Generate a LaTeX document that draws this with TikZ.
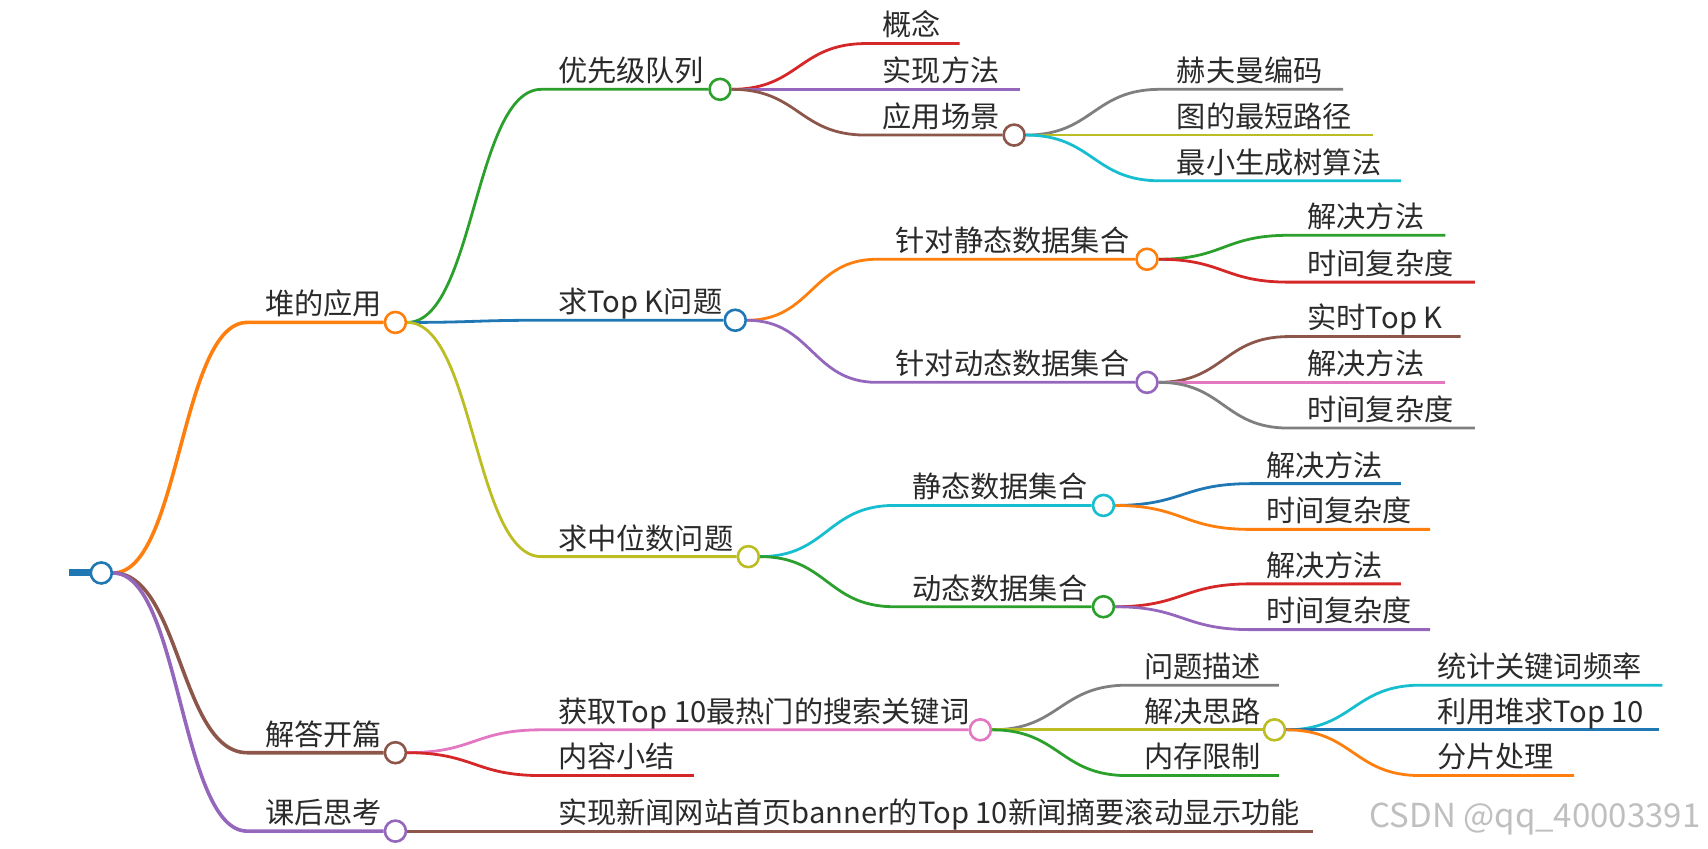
\documentclass[tikz,border=0pt]{standalone}
\usepackage{fontspec}
\setmainfont{Noto Sans CJK SC}
\usetikzlibrary{calc,backgrounds}
\definecolor{cblue}{HTML}{1F77B4}
\definecolor{corange}{HTML}{FF7F0E}
\definecolor{cgreen}{HTML}{2CA02C}
\definecolor{cred}{HTML}{D62728}
\definecolor{cpurple}{HTML}{9467BD}
\definecolor{cbrown}{HTML}{8C564B}
\definecolor{cpink}{HTML}{E377C2}
\definecolor{cgray}{HTML}{7F7F7F}
\definecolor{colive}{HTML}{BCBD22}
\definecolor{ccyan}{HTML}{17BECF}
\definecolor{txt}{HTML}{2A2A2A}
\tikzset{
  lbl/.style={anchor=base west, inner sep=0pt, text=txt, font=\fontsize{14.6}{16}\selectfont},
  dot/.style={circle, draw=#1, fill=white, line width=1.3pt, minimum size=10.5pt, inner sep=0pt},
  thick1/.style={draw=#1, line width=1.8pt},
  thin1/.style={draw=#1, line width=1.4pt},
  link/.style={to path={let \p1=(\tikztostart), \p2=(\tikztotarget) in
     .. controls ({0.5*\x1+0.5*\x2},\y1) and ({0.5*\x1+0.5*\x2},\y2) .. (\tikztotarget)}},
}
\begin{document}
\begin{tikzpicture}[x=0.5447pt, y=-0.5447pt]
\useasboundingbox (0,0) rectangle (1568,779);
% ---------- root ----------
\node[dot=cblue] (root) at (93,526) {};
\coordinate (stub) at (63,526);
% ---------- level 1 ----------
\coordinate (sA) at (227,296); \node[dot=corange] (cA) at (363,296) {};
\node[lbl] (tA) at (243,289) {堆的应用};
\coordinate (sB) at (227,691); \node[dot=cbrown] (cB) at (363,691) {};
\node[lbl] (tB) at (243,684) {解答开篇};
\coordinate (sC) at (227,763); \node[dot=cpurple] (cC) at (363,763) {};
\node[lbl] (tC) at (243,756) {课后思考};
% ---------- level 2 ----------
\coordinate (sA1) at (497,82); \node[dot=cgreen] (cA1) at (661,82) {};
\node[lbl] (tA1) at (512,75) {优先级队列};
\coordinate (sA2) at (497,294); \node[dot=cblue] (cA2) at (675,294) {};
\node[lbl] (tA2) at (512,287) {求Top K问题};
\coordinate (sA3) at (497,511); \node[dot=colive] (cA3) at (687,511) {};
\node[lbl] (tA3) at (512,504) {求中位数问题};
\coordinate (sB1) at (497,670); \node[dot=cpink] (cB1) at (900,670) {};
\node[lbl] (tB1) at (512,663) {获取Top 10最热门的搜索关键词};
\coordinate (sB2) at (497,712); \coordinate (eB2) at (637,712);
\node[lbl] (tB2) at (512,705) {内容小结};
\coordinate (sC1) at (497,763); \coordinate (eC1) at (1205,763);
\node[lbl] (tC1) at (512,756) {实现新闻网站首页banner的Top 10新闻摘要滚动显示功能};
% ---------- level 3: 优先级队列 ----------
\coordinate (sA11) at (795,40); \coordinate (eA11) at (881,40);
\node[lbl] (tA11) at (810,33) {概念};
\coordinate (sA12) at (795,82); \coordinate (eA12) at (936,82);
\node[lbl] (tA12) at (810,75) {实现方法};
\coordinate (sA13) at (795,124); \node[dot=cbrown] (cA13) at (931,124) {};
\node[lbl] (tA13) at (810,117) {应用场景};
\coordinate (sA131) at (1065,82); \coordinate (eA131) at (1233,82);
\node[lbl] (tA131) at (1080,75) {赫夫曼编码};
\coordinate (sA132) at (1065,124); \coordinate (eA132) at (1260,124);
\node[lbl] (tA132) at (1080,117) {图的最短路径};
\coordinate (sA133) at (1065,166); \coordinate (eA133) at (1286,166);
\node[lbl] (tA133) at (1080,159) {最小生成树算法};
% ---------- level 3: Top K ----------
\coordinate (sA21) at (805,238); \node[dot=corange] (cA21) at (1053,238) {};
\node[lbl] (tA21) at (822,231) {针对静态数据集合};
\coordinate (sA211) at (1183,216); \coordinate (eA211) at (1327,216);
\node[lbl] (tA211) at (1200,209) {解决方法};
\coordinate (sA212) at (1183,259); \coordinate (eA212) at (1354,259);
\node[lbl] (tA212) at (1200,252) {时间复杂度};
\coordinate (sA22) at (805,351); \node[dot=cpurple] (cA22) at (1053,351) {};
\node[lbl] (tA22) at (822,344) {针对动态数据集合};
\coordinate (sA221) at (1183,309); \coordinate (eA221) at (1341,309);
\node[lbl] (tA221) at (1200,302) {实时Top K};
\coordinate (sA222) at (1183,351); \coordinate (eA222) at (1327,351);
\node[lbl] (tA222) at (1200,344) {解决方法};
\coordinate (sA223) at (1183,393); \coordinate (eA223) at (1354,393);
\node[lbl] (tA223) at (1200,386) {时间复杂度};
% ---------- level 3: 中位数 ----------
\coordinate (sA31) at (821,464); \node[dot=ccyan] (cA31) at (1013,464) {};
\node[lbl] (tA31) at (837,457) {静态数据集合};
\coordinate (sA311) at (1148,444); \coordinate (eA311) at (1286,444);
\node[lbl] (tA311) at (1162,437) {解决方法};
\coordinate (sA312) at (1148,486); \coordinate (eA312) at (1313,486);
\node[lbl] (tA312) at (1162,479) {时间复杂度};
\coordinate (sA32) at (821,557); \node[dot=cgreen] (cA32) at (1013,557) {};
\node[lbl] (tA32) at (837,550) {动态数据集合};
\coordinate (sA321) at (1148,536); \coordinate (eA321) at (1286,536);
\node[lbl] (tA321) at (1162,529) {解决方法};
\coordinate (sA322) at (1148,578); \coordinate (eA322) at (1313,578);
\node[lbl] (tA322) at (1162,571) {时间复杂度};
% ---------- level 3: 获取Top 10 ----------
\coordinate (sB11) at (1035,629); \coordinate (eB11) at (1174,629);
\node[lbl] (tB11) at (1050,622) {问题描述};
\coordinate (sB12) at (1035,670); \node[dot=colive] (cB12) at (1170,670) {};
\node[lbl] (tB12) at (1050,663) {解决思路};
\coordinate (sB13) at (1035,712); \coordinate (eB13) at (1174,712);
\node[lbl] (tB13) at (1050,705) {内存限制};
\coordinate (sB121) at (1304,629); \coordinate (eB121) at (1526,629);
\node[lbl] (tB121) at (1319,622) {统计关键词频率};
\coordinate (sB122) at (1304,670); \coordinate (eB122) at (1523,670);
\node[lbl] (tB122) at (1319,663) {利用堆求Top 10};
\coordinate (sB123) at (1304,712); \coordinate (eB123) at (1445,712);
\node[lbl] (tB123) at (1319,705) {分片处理};
% ---------- watermark ----------
\node[anchor=base west, inner sep=0pt, text=gray!50, font=\fontsize{16.5}{18}\selectfont] (wm) at (1257,760) {CSDN @qq\_40003391};
% ---------- connectors ----------
\begin{scope}[on background layer]
\draw[cblue, line width=3.5pt] (stub) -- (root.west);
% level 1
\draw[thick1=corange] (root.east) to[link] (sA) -- (cA.west);
\draw[thick1=cbrown] (root.east) to[link] (sB) -- (cB.west);
\draw[thick1=cpurple] (root.east) to[link] (sC) -- (cC.west);
% level 2
\draw[thin1=cgreen] (cA.east) to[link] (sA1) -- (cA1.west);
\draw[thin1=cblue] (cA.east) to[link] (sA2) -- (cA2.west);
\draw[thin1=colive] (cA.east) to[link] (sA3) -- (cA3.west);
\draw[thin1=cpink] (cB.east) to[link] (sB1) -- (cB1.west);
\draw[thin1=cred] (cB.east) to[link] (sB2) -- (eB2);
\draw[thin1=cbrown] (cC.east) to[link] (sC1) -- (eC1);
% level 3
\draw[thin1=cred] (cA1.east) to[link] (sA11) -- (eA11);
\draw[thin1=cpurple] (cA1.east) to[link] (sA12) -- (eA12);
\draw[thin1=cbrown] (cA1.east) to[link] (sA13) -- (cA13.west);
\draw[thin1=cgray] (cA13.east) to[link] (sA131) -- (eA131);
\draw[thin1=colive] (cA13.east) to[link] (sA132) -- (eA132);
\draw[thin1=ccyan] (cA13.east) to[link] (sA133) -- (eA133);
\draw[thin1=corange] (cA2.east) to[link] (sA21) -- (cA21.west);
\draw[thin1=cpurple] (cA2.east) to[link] (sA22) -- (cA22.west);
\draw[thin1=cgreen] (cA21.east) to[link] (sA211) -- (eA211);
\draw[thin1=cred] (cA21.east) to[link] (sA212) -- (eA212);
\draw[thin1=cbrown] (cA22.east) to[link] (sA221) -- (eA221);
\draw[thin1=cpink] (cA22.east) to[link] (sA222) -- (eA222);
\draw[thin1=cgray] (cA22.east) to[link] (sA223) -- (eA223);
\draw[thin1=ccyan] (cA3.east) to[link] (sA31) -- (cA31.west);
\draw[thin1=cgreen] (cA3.east) to[link] (sA32) -- (cA32.west);
\draw[thin1=cblue] (cA31.east) to[link] (sA311) -- (eA311);
\draw[thin1=corange] (cA31.east) to[link] (sA312) -- (eA312);
\draw[thin1=cred] (cA32.east) to[link] (sA321) -- (eA321);
\draw[thin1=cpurple] (cA32.east) to[link] (sA322) -- (eA322);
\draw[thin1=cgray] (cB1.east) to[link] (sB11) -- (eB11);
\draw[thin1=colive] (cB1.east) to[link] (sB12) -- (cB12.west);
\draw[thin1=cgreen] (cB1.east) to[link] (sB13) -- (eB13);
\draw[thin1=ccyan] (cB12.east) to[link] (sB121) -- (eB121);
\draw[thin1=cblue] (cB12.east) to[link] (sB122) -- (eB122);
\draw[thin1=corange] (cB12.east) to[link] (sB123) -- (eB123);
\end{scope}
\end{tikzpicture}
\end{document}
